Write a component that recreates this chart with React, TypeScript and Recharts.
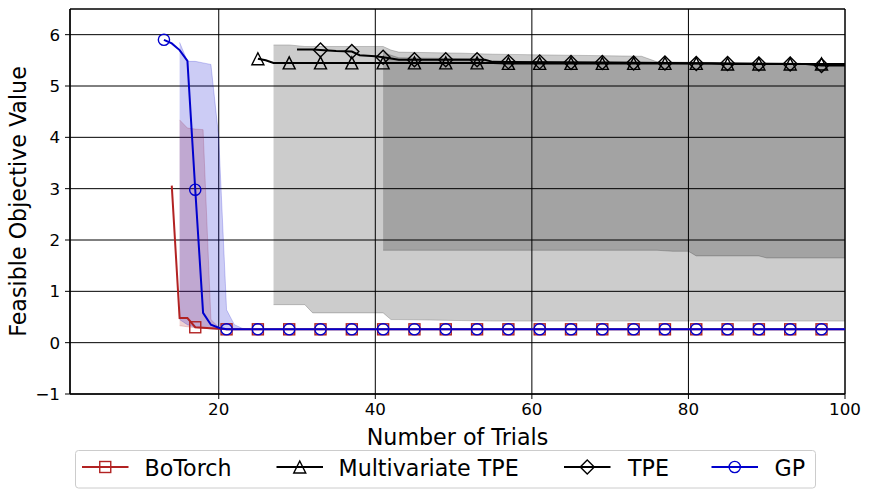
import React from 'react';
import {
  ComposedChart,
  Line,
  Area,
  XAxis,
  YAxis,
  CartesianGrid,
  ReferenceArea,
} from 'recharts';

type Pt = [number, number];
type Band = [number, number, number];

const FONT = '"DejaVu Sans", sans-serif';
const RED = '#b22222';
const BLUE = '#0000cd';
const BLACK = '#000000';

// mean curves, [trial, value]
const botorchMean: Pt[] = [[14, 3.06], [15, 0.48], [16, 0.48], [17, 0.30], [18, 0.29], [19, 0.28], [20, 0.27], [21, 0.26], [100, 0.26]];
const gpMean: Pt[] = [[13, 5.90], [14, 5.83], [15, 5.70], [16, 5.49], [17, 2.98], [18, 0.58], [19, 0.35], [20, 0.29], [21, 0.26], [100, 0.26]];
const mtpeMean: Pt[] = [[25, 5.53], [26, 5.50], [27, 5.45], [55, 5.45], [57, 5.44], [83, 5.44], [85, 5.43], [100, 5.43]];
const tpeMean: Pt[] = [[30, 5.71], [32, 5.71], [35, 5.68], [37, 5.67], [38, 5.60], [40, 5.58], [41, 5.56], [43, 5.51], [54, 5.51], [55, 5.47], [70, 5.46], [85, 5.44], [95, 5.43], [97, 5.40], [100, 5.40]];

// spread bands, [trial, low, high]
const botorchBand: Band[] = [[15, 0.33, 4.34], [16, 0.31, 4.18], [17, 0.29, 4.16], [18, 0.28, 4.15], [19, 0.27, 0.45], [20, 0.26, 0.30], [21, 0.26, 0.27], [22, 0.26, 0.26]];
const gpBand: Band[] = [[15, 0.45, 5.85], [16, 0.35, 5.48], [17, 0.30, 5.48], [18, 0.28, 5.45], [19, 0.27, 5.42], [20, 0.26, 4.00], [21, 0.26, 0.64], [22, 0.26, 0.35], [23, 0.26, 0.28], [24, 0.26, 0.26]];
const mtpeBand: Band[] = [[27, 0.74, 5.80], [29, 0.74, 5.80], [31, 0.74, 5.77], [32, 0.58, 5.77], [41, 0.58, 5.77], [42, 0.45, 5.70], [43, 0.45, 5.66], [51, 0.43, 5.64], [55, 0.42, 5.62], [74, 0.42, 5.58], [76, 0.42, 5.47], [100, 0.42, 5.43]];
const tpeBand: Band[] = [[41, 1.80, 5.65], [43, 1.80, 5.55], [53, 1.80, 5.53], [55, 1.80, 5.47], [76, 1.80, 5.45], [78, 1.78, 5.45], [80, 1.78, 5.44], [81, 1.69, 5.44], [89, 1.69, 5.43], [90, 1.65, 5.43], [100, 1.65, 5.42]];

// marker positions (every 4th trial)
const botorchMarks: Pt[] = [[17, 0.30], [21, 0.26], [25, 0.26], [29, 0.26], [33, 0.26], [37, 0.26], [41, 0.26], [45, 0.26], [49, 0.26], [53, 0.26], [57, 0.26], [61, 0.26], [65, 0.26], [69, 0.26], [73, 0.26], [77, 0.26], [81, 0.26], [85, 0.26], [89, 0.26], [93, 0.26], [97, 0.26]];
const gpMarks: Pt[] = [[13, 5.90], [17, 2.98], [21, 0.26], [25, 0.26], [29, 0.26], [33, 0.26], [37, 0.26], [41, 0.26], [45, 0.26], [49, 0.26], [53, 0.26], [57, 0.26], [61, 0.26], [65, 0.26], [69, 0.26], [73, 0.26], [77, 0.26], [81, 0.26], [85, 0.26], [89, 0.26], [93, 0.26], [97, 0.26]];
const mtpeMarks: Pt[] = [[25, 5.53], [29, 5.45], [33, 5.45], [37, 5.45], [41, 5.45], [45, 5.45], [49, 5.45], [53, 5.45], [57, 5.44], [61, 5.44], [65, 5.44], [69, 5.44], [73, 5.44], [77, 5.44], [81, 5.44], [85, 5.43], [89, 5.43], [93, 5.43], [97, 5.43]];
const tpeMarks: Pt[] = [[33, 5.70], [37, 5.67], [41, 5.56], [45, 5.51], [49, 5.51], [53, 5.51], [57, 5.47], [61, 5.47], [65, 5.46], [69, 5.46], [73, 5.45], [77, 5.45], [81, 5.44], [85, 5.44], [89, 5.43], [93, 5.43], [97, 5.40]];

const xTicks = [20, 40, 60, 80, 100];
const yTicks = [-1, 0, 1, 2, 3, 4, 5, 6];

const toRows = (pts: Pt[]) => pts.map(([x, y]) => ({ x, y }));
const toBandRows = (pts: Band[]) => pts.map(([x, lo, hi]) => ({ x, range: [lo, hi] }));

type Kind = 'square' | 'triangle' | 'diamond' | 'circle';

const Marker = ({ kind, x, y, color }: { kind: Kind; x: number; y: number; color: string }) => {
  const common = { fill: 'none', stroke: color, strokeWidth: 1.4 };
  if (kind === 'square') return <rect x={x - 5.5} y={y - 5.5} width={11} height={11} {...common} />;
  if (kind === 'circle') return <circle cx={x} cy={y} r={5.6} {...common} />;
  if (kind === 'triangle')
    return <path d={`M${x},${y - 6}L${x + 6},${y + 6}L${x - 6},${y + 6}Z`} {...common} />;
  return <path d={`M${x},${y - 7}L${x + 7},${y}L${x},${y + 7}L${x - 7},${y}Z`} {...common} />;
};

const makeDot = (kind: Kind, color: string) => (props: any) => {
  const { cx, cy, index } = props;
  if (cx == null || cy == null) return <g key={`e-${index}`} />;
  return (
    <g key={`m-${index}`}>
      <Marker kind={kind} x={cx} y={cy} color={color} />
    </g>
  );
};

const fmtY = (v: number) => (v < 0 ? `\u2212${Math.abs(v)}` : `${v}`);

const legendItems: { name: string; kind: Kind; color: string; x0: number; tx: number }[] = [
  { name: 'BoTorch', kind: 'square', color: RED, x0: 82, tx: 144.5 },
  { name: 'Multivariate TPE', kind: 'triangle', color: BLACK, x0: 276.5, tx: 338.5 },
  { name: 'TPE', kind: 'diamond', color: BLACK, x0: 564, tx: 628 },
  { name: 'GP', kind: 'circle', color: BLUE, x0: 711.5, tx: 774.5 },
];

export default function App() {
  const tickStyle = { fill: '#000', fontSize: 16.7, fontFamily: FONT };
  return (
    <div style={{ position: 'absolute', left: 0, top: 0, width: 870, height: 498, background: '#fff' }}>
      <ComposedChart width={870} height={498} margin={{ top: 9, right: 25, bottom: 74, left: 0 }}>
        <CartesianGrid stroke="#000" strokeWidth={1} />
        <XAxis
          type="number"
          dataKey="x"
          domain={[1, 100]}
          ticks={xTicks}
          interval={0}
          allowDataOverflow
          height={30}
          tickSize={5}
          tickMargin={4}
          tick={tickStyle}
          tickLine={{ stroke: '#000' }}
          axisLine={{ stroke: '#000' }}
        />
        <YAxis
          type="number"
          domain={[-1, 6.5]}
          ticks={yTicks}
          interval={0}
          allowDataOverflow
          width={70}
          tickSize={5}
          tickMargin={5}
          tickFormatter={fmtY}
          tick={tickStyle}
          tickLine={{ stroke: '#000' }}
          axisLine={{ stroke: '#000' }}
        />
        <Area data={toBandRows(mtpeBand)} dataKey="range" type="linear" fill={BLACK} fillOpacity={0.2} stroke={BLACK} strokeOpacity={0.2} strokeWidth={1} isAnimationActive={false} />
        <Area data={toBandRows(tpeBand)} dataKey="range" type="linear" fill={BLACK} fillOpacity={0.2} stroke={BLACK} strokeOpacity={0.2} strokeWidth={1} isAnimationActive={false} />
        <Area data={toBandRows(botorchBand)} dataKey="range" type="linear" fill={RED} fillOpacity={0.2} stroke={RED} strokeOpacity={0.2} strokeWidth={1} isAnimationActive={false} />
        <Area data={toBandRows(gpBand)} dataKey="range" type="linear" fill={BLUE} fillOpacity={0.2} stroke={BLUE} strokeOpacity={0.2} strokeWidth={1} isAnimationActive={false} />

        <Line data={toRows(botorchMean)} dataKey="y" type="linear" stroke={RED} strokeWidth={2} dot={false} isAnimationActive={false} />
        <Line data={toRows(botorchMarks)} dataKey="y" stroke="none" dot={makeDot('square', RED)} isAnimationActive={false} />
        <Line data={toRows(mtpeMean)} dataKey="y" type="linear" stroke={BLACK} strokeWidth={2} dot={false} isAnimationActive={false} />
        <Line data={toRows(mtpeMarks)} dataKey="y" stroke="none" dot={makeDot('triangle', BLACK)} isAnimationActive={false} />
        <Line data={toRows(tpeMean)} dataKey="y" type="linear" stroke={BLACK} strokeWidth={2} dot={false} isAnimationActive={false} />
        <Line data={toRows(tpeMarks)} dataKey="y" stroke="none" dot={makeDot('diamond', BLACK)} isAnimationActive={false} />
        <Line data={toRows(gpMean)} dataKey="y" type="linear" stroke={BLUE} strokeWidth={2} dot={false} isAnimationActive={false} />
        <Line data={toRows(gpMarks)} dataKey="y" stroke="none" dot={makeDot('circle', BLUE)} isAnimationActive={false} />

        <ReferenceArea x1={1} x2={100} y1={-1} y2={6.5} fill="none" fillOpacity={0} stroke="#000" strokeWidth={1} ifOverflow="visible" />
      </ComposedChart>

      <svg width={870} height={498} style={{ position: 'absolute', left: 0, top: 0, pointerEvents: 'none' }}>
        <text x={457.5} y={445} textAnchor="middle" fontFamily={FONT} fontSize={22.2} fill="#000">
          Number of Trials
        </text>
        <text
          x={0}
          y={0}
          transform="translate(25.5,201.5) rotate(-90)"
          textAnchor="middle"
          fontFamily={FONT}
          fontSize={22.2}
          fill="#000"
        >
          Feasible Objective Value
        </text>
        <rect x={75.5} y={450.5} width={740} height={37.5} rx={3} fill="#fff" fillOpacity={0.8} stroke="#cccccc" strokeWidth={1} />
        {legendItems.map((it) => (
          <g key={it.name}>
            <line x1={it.x0} x2={it.x0 + 46.5} y1={467} y2={467} stroke={it.color} strokeWidth={2} />
            <Marker kind={it.kind} x={it.x0 + 23.25} y={467} color={it.color} />
            <text x={it.tx} y={476} fontFamily={FONT} fontSize={22.2} fill="#000">
              {it.name}
            </text>
          </g>
        ))}
      </svg>
    </div>
  );
}
